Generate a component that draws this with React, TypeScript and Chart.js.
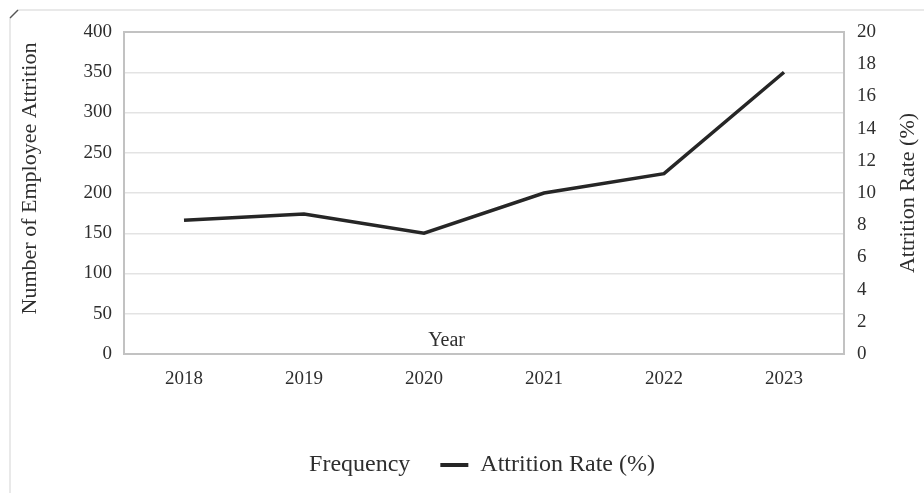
import React, { useEffect, useRef } from 'react';
import { Chart, registerables } from 'chart.js';

Chart.register(...registerables);

// Chart data
const years = ['2018', '2019', '2020', '2021', '2022', '2023'];
const attritionRate = [8.3, 8.7, 7.5, 10.0, 11.2, 17.5];
const frequency: number[] = [];

// Axis ranges / tick steps
const countAxis = { min: 0, max: 400, step: 50 };
const rateAxis = { min: 0, max: 20, step: 2 };

// Text
const countTitle = 'Number of Employee Attrition';
const rateTitle = 'Attrition Rate (%)';
const yearTitle = 'Year';
const frequencyLabel = 'Frequency';
const rateLabel = 'Attrition Rate (%)';

const SERIF = "'Liberation Serif', 'Times New Roman', serif";
const TEXT = '#2e2e2e';
const LINE = '#262626';

const decorations = {
  id: 'decorations',
  beforeDraw(chart: any) {
    const { ctx, width, height } = chart;
    ctx.save();
    ctx.fillStyle = '#ffffff';
    ctx.fillRect(0, 0, width, height);
    // outer chart frame (top and left edges with a chamfered corner)
    ctx.strokeStyle = '#e2e2e2';
    ctx.lineWidth = 1.5;
    ctx.beginPath();
    ctx.moveTo(10, height + 2);
    ctx.lineTo(10, 18);
    ctx.moveTo(18, 10);
    ctx.lineTo(width + 2, 10);
    ctx.stroke();
    ctx.strokeStyle = '#555555';
    ctx.beginPath();
    ctx.moveTo(10, 18);
    ctx.lineTo(18, 10);
    ctx.stroke();
    ctx.restore();
  },
  beforeDatasetsDraw(chart: any) {
    const { ctx, chartArea: a } = chart;
    ctx.save();
    ctx.strokeStyle = '#c2c2c2';
    ctx.lineWidth = 2;
    ctx.strokeRect(a.left, a.top, a.right - a.left, a.bottom - a.top);
    ctx.restore();
  },
  afterDraw(chart: any) {
    const { ctx, chartArea: a } = chart;
    const h = a.bottom - a.top;
    const w = a.right - a.left;
    ctx.save();
    ctx.fillStyle = TEXT;
    ctx.textAlign = 'center';
    ctx.textBaseline = 'middle';
    ctx.font = `22px ${SERIF}`;

    ctx.save();
    ctx.translate(a.left - 94, a.top + h * 0.455);
    ctx.rotate(-Math.PI / 2);
    ctx.fillText(countTitle, 0, 0);
    ctx.restore();

    ctx.save();
    ctx.translate(a.right + 64, a.top + h * 0.5);
    ctx.rotate(-Math.PI / 2);
    ctx.fillText(rateTitle, 0, 0);
    ctx.restore();

    ctx.font = `20px ${SERIF}`;
    ctx.fillText(yearTitle, a.left + w * 0.448, a.bottom - 13);
    ctx.restore();
  },
};

export default function App() {
  const ref = useRef<HTMLCanvasElement | null>(null);

  useEffect(() => {
    if (!ref.current) return;
    const tickFont = { family: SERIF, size: 19 };
    const chart = new Chart(ref.current, {
      type: 'bar',
      data: {
        labels: years,
        datasets: [
          {
            type: 'bar',
            label: frequencyLabel,
            data: frequency,
            yAxisID: 'y',
            backgroundColor: 'rgba(0,0,0,0)',
          },
          {
            type: 'line',
            label: rateLabel,
            data: attritionRate,
            yAxisID: 'y1',
            borderColor: LINE,
            backgroundColor: LINE,
            borderWidth: 3.5,
            pointRadius: 0,
            tension: 0,
          },
        ],
      } as any,
      options: {
        responsive: false,
        animation: false,
        devicePixelRatio: 1,
        layout: { padding: { top: 32, bottom: 6, left: 0, right: 0 } },
        plugins: {
          tooltip: { enabled: false },
          legend: {
            position: 'bottom',
            labels: {
              color: TEXT,
              font: { family: SERIF, size: 24 },
              boxWidth: 28,
              boxHeight: 4,
              padding: 30,
              generateLabels(c: any) {
                return c.data.datasets.map((ds: any, i: number) => ({
                  text: ds.label,
                  fillStyle: ds.type === 'line' ? LINE : 'rgba(0,0,0,0)',
                  strokeStyle: 'rgba(0,0,0,0)',
                  lineWidth: 0,
                  fontColor: TEXT,
                  hidden: false,
                  datasetIndex: i,
                }));
              },
            },
          },
        },
        scales: {
          x: {
            grid: { display: false, drawTicks: false },
            border: { display: false },
            ticks: { font: tickFont, color: TEXT, padding: 14 },
            afterFit(s: any) {
              s.height = 69;
            },
          },
          y: {
            position: 'left',
            min: countAxis.min,
            max: countAxis.max,
            ticks: { stepSize: countAxis.step, font: tickFont, color: TEXT, padding: 12 },
            grid: { color: '#e3e3e3', lineWidth: 1.5, drawTicks: false },
            border: { display: false },
            afterFit(s: any) {
              s.width = 124;
            },
          },
          y1: {
            position: 'right',
            min: rateAxis.min,
            max: rateAxis.max,
            ticks: { stepSize: rateAxis.step, font: tickFont, color: TEXT, padding: 13 },
            grid: { display: false, drawTicks: false },
            border: { display: false },
            afterFit(s: any) {
              s.width = 80;
            },
          },
        },
      } as any,
      plugins: [decorations],
    });
    return () => chart.destroy();
  }, []);

  return (
    <div style={{ position: 'absolute', left: 0, top: 0, width: 924, height: 493, background: '#fff' }}>
      <canvas ref={ref} width={924} height={493} style={{ display: 'block' }} />
    </div>
  );
}
